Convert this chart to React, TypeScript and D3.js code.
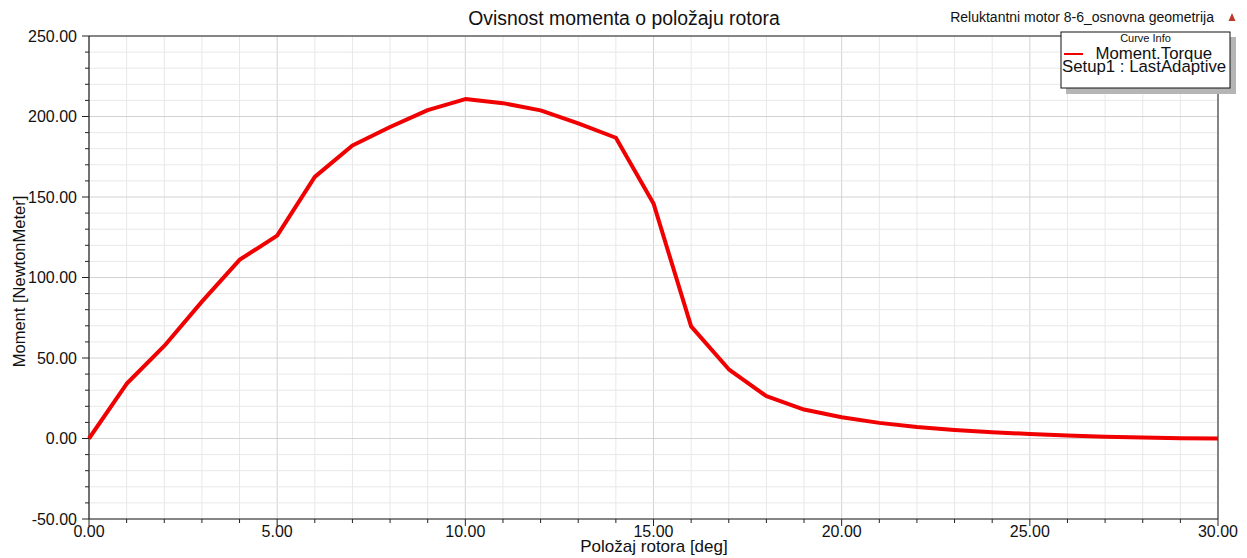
import React from "react";
import * as d3 from "d3";

const angles = [0, 1, 2, 3, 4, 5, 6, 7, 8, 9, 10, 11, 12, 13, 14, 15, 16, 17, 18, 19, 20, 21, 22, 23, 24, 25, 26, 27, 28, 29, 30];
const torque = [0, 34, 57.5, 85, 111, 126, 162.5, 182, 193.5, 204, 210.8, 208.3, 203.8, 195.7, 186.8, 146, 69.6, 43, 26.3, 18, 13.2, 9.7, 7.2, 5.3, 3.9, 2.8, 1.8, 1.1, 0.6, 0.2, 0];
const xTicks = [0, 5, 10, 15, 20, 25, 30];
const yTicks = [-50, 0, 50, 100, 150, 200, 250];
const title = "Ovisnost momenta o položaju rotora";
const subtitle = "Reluktantni motor 8-6_osnovna geometrija";
const xLabel = "Položaj rotora [deg]";
const yLabel = "Moment [NewtonMeter]";
const legendName = "Moment.Torque";
const legendSetup = "Setup1 : LastAdaptive";

const W = 1247;
const H = 558;
const FONT = "'Liberation Sans', Arial, sans-serif";

export default function App() {
  const x = d3.scaleLinear().domain([0, 30]).range([89, 1218]);
  const y = d3.scaleLinear().domain([-50, 250]).range([519, 36]);
  const xMinor = d3.range(0, 30.001, 1);
  const yMinor = d3.range(-50, 250.001, 10);
  const line = d3
    .line<number>()
    .x((_, i) => x(angles[i]))
    .y((d) => y(d));
  const [x0, x1] = x.range();
  const [y0, y1] = y.range();

  return (
    <svg
      width={W}
      height={H}
      style={{ position: "absolute", left: 0, top: 0, background: "#fff" }}
      fontFamily={FONT}
    >
      <rect x={0} y={0} width={W} height={H} fill="#fff" />
      {/* grid */}
      {xMinor.map((v) => (
        <line
          key={"gx" + v}
          x1={x(v)}
          x2={x(v)}
          y1={y1}
          y2={y0}
          stroke={v % 5 === 0 ? "#d2d2d2" : "#e8e8e8"}
          strokeWidth={1}
        />
      ))}
      {yMinor.map((v) => (
        <line
          key={"gy" + v}
          x1={x0}
          x2={x1}
          y1={y(v)}
          y2={y(v)}
          stroke={v % 50 === 0 ? "#d2d2d2" : "#e8e8e8"}
          strokeWidth={1}
        />
      ))}
      {/* frame */}
      <line x1={x0} x2={x1} y1={y1} y2={y1} stroke="#222" strokeWidth={1} />
      <line x1={x1} x2={x1} y1={y1} y2={y0} stroke="#222" strokeWidth={1} />
      <line x1={x0} x2={x0} y1={y1} y2={y0} stroke="#222" strokeWidth={1.2} />
      <line x1={x0} x2={x1} y1={y0} y2={y0} stroke="#222" strokeWidth={1.2} />
      {/* ticks */}
      {yMinor.map((v) => (
        <line
          key={"ty" + v}
          x1={v % 50 === 0 ? x0 - 7 : x0 - 4}
          x2={x0}
          y1={y(v)}
          y2={y(v)}
          stroke="#222"
          strokeWidth={1}
        />
      ))}
      {xMinor.map((v) => (
        <line
          key={"tx" + v}
          x1={x(v)}
          x2={x(v)}
          y1={y0}
          y2={v % 5 === 0 ? y0 + 7 : y0 + 4}
          stroke="#222"
          strokeWidth={1}
        />
      ))}
      {yTicks.map((v) => (
        <text
          key={"ly" + v}
          x={77}
          y={y(v)}
          dy="0.35em"
          textAnchor="end"
          fontSize={16}
          fill="#111"
        >
          {v.toFixed(2)}
        </text>
      ))}
      {xTicks.map((v) => (
        <text
          key={"lx" + v}
          x={x(v)}
          y={537}
          textAnchor="middle"
          fontSize={16}
          fill="#111"
        >
          {v.toFixed(2)}
        </text>
      ))}
      {/* axis titles */}
      <text x={654} y={551.5} textAnchor="middle" fontSize={17} fill="#111">
        {xLabel}
      </text>
      <text
        transform={`translate(25,${(y0 + y1) / 2 + 4}) rotate(-90)`}
        textAnchor="middle"
        fontSize={16.5}
        fill="#111"
      >
        {yLabel}
      </text>
      {/* title */}
      <text x={624} y={24.5} textAnchor="middle" fontSize={19.4} fill="#111">
        {title}
      </text>
      <text x={1214} y={22} textAnchor="end" fontSize={14} fill="#111">
        {subtitle}
      </text>
      <path d="M1232,13 L1235.5,21 L1228.5,21 Z" fill="#c0392b" />
      {/* data line */}
      <path
        d={line(torque) || ""}
        fill="none"
        stroke="#f00000"
        strokeWidth={4}
        strokeLinejoin="round"
      />
      {/* legend */}
      <rect x={1066} y={37} width={170} height={57} fill="#b5b5b5" />
      <rect x={1061} y={32} width={169} height={56} fill="#fff" stroke="#111" strokeWidth={1} />
      <text x={1145.5} y={41.5} textAnchor="middle" fontSize={11} fill="#111">
        Curve Info
      </text>
      <line x1={1064} x2={1083} y1={54} y2={54} stroke="#f00000" strokeWidth={2} />
      <text x={1095.5} y={59} fontSize={16.8} fill="#111">
        {legendName}
      </text>
      <text x={1062} y={72} fontSize={16.8} fill="#111">
        {legendSetup}
      </text>
    </svg>
  );
}
